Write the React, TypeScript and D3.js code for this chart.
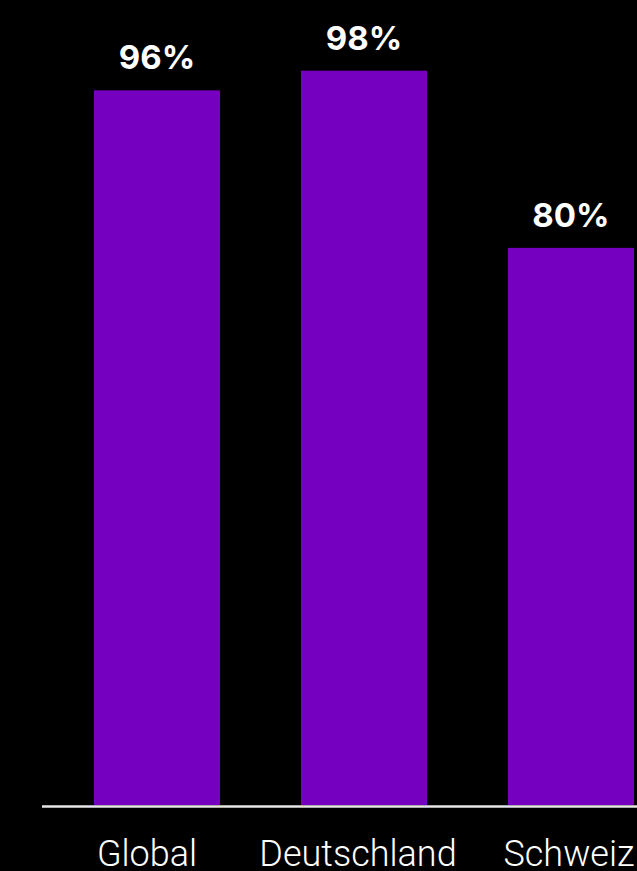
import React, { useEffect } from "react";
import * as d3 from "d3";

const categories = ["Global", "Deutschland", "Schweiz"];
const values = [96, 98, 80];
const valueLabels = ["96%", "98%", "80%"];

const W = 637;
const H = 871;
const baseY = 805;

export default function App() {
  useEffect(() => {
    document.body.style.margin = "0";
    document.body.style.background = "#000";
  }, []);

  const x = d3
    .scaleBand<string>()
    .domain(categories)
    .range([94, 634])
    .paddingInner(0.391)
    .paddingOuter(0);

  // category labels sit on their own slightly tighter grid
  const xLabel = d3.scalePoint<string>().domain(categories).range([147, 569]);

  const y = d3.scaleLinear().domain([23.4, 100]).range([baseY, 51]);

  return (
    <svg
      width={W}
      height={H}
      style={{ position: "absolute", left: 0, top: 0, background: "#000", display: "block" }}
    >
      <rect x={0} y={0} width={W} height={H} fill="#000" />
      {categories.map((c, i) => (
        <g key={c}>
          <rect
            x={x(c)!}
            y={y(values[i])}
            width={x.bandwidth()}
            height={baseY - y(values[i])}
            fill="#7500c0"
          />
          <text
            x={x(c)! + x.bandwidth() / 2}
            y={y(values[i]) - 21}
            textAnchor="middle"
            fill="#fff"
            fontFamily="Inter, 'Noto Sans', sans-serif"
            fontWeight={700}
            fontSize={33}
          >
            {valueLabels[i]}
          </text>
          <text
            x={xLabel(c)!}
            y={866}
            textAnchor="middle"
            fill="#fff"
            fontFamily="Roboto, sans-serif"
            fontWeight={300}
            fontSize={36}
          >
            {c}
          </text>
        </g>
      ))}
      <line x1={42} x2={W} y1={806.5} y2={806.5} stroke="#e6e6e6" strokeWidth={2.5} />
    </svg>
  );
}
